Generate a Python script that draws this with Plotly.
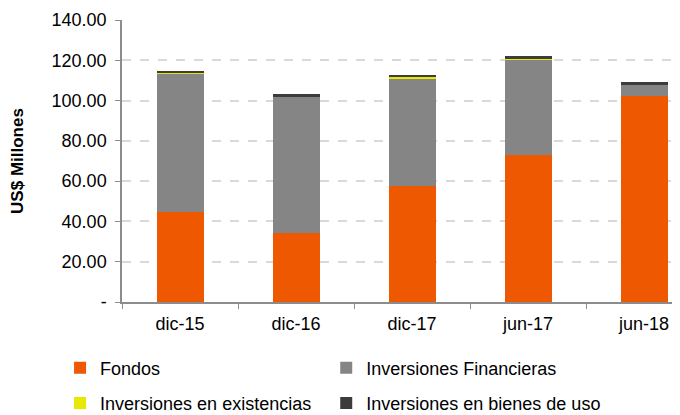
import plotly.graph_objects as go

# Data (US$ millones)
periodos = ["dic-15", "dic-16", "dic-17", "jun-17", "jun-18"]
fondos = [44.9, 34.3, 57.8, 73.0, 102.3]
inv_financieras = [68.3, 67.7, 53.1, 47.2, 5.5]
inv_existencias = [0.4, 0.0, 0.6, 0.6, 0.1]
inv_bienes_uso = [1.2, 1.2, 1.3, 1.3, 1.3]

y_ticks = [0, 20, 40, 60, 80, 100, 120, 140]
y_tick_text = ["-", "20.00", "40.00", "60.00", "80.00", "100.00", "120.00", "140.00"]

FONT = "Liberation Sans, Arial, sans-serif"

fig = go.Figure()
series = [
    ("Fondos", fondos, "#EE5800", "legend"),
    ("Inversiones Financieras", inv_financieras, "#858585", "legend2"),
    ("Inversiones en existencias", inv_existencias, "#E8E800", "legend"),
    ("Inversiones en bienes de uso", inv_bienes_uso, "#3C3C3C", "legend2"),
]
for name, vals, color, leg in series:
    fig.add_trace(go.Bar(
        x=periodos, y=vals, name=name, legend=leg, legendgroup=name,
        marker=dict(color=color, line=dict(width=0)),
    ))

# page body has an 8px margin, so the figure is 8px smaller than the window
legend_style = dict(
    orientation="v", traceorder="grouped", tracegroupgap=9,
    font=dict(family=FONT, size=18, color="#000000"),
    bgcolor="rgba(0,0,0,0)", itemwidth=30,
    xref="paper", yref="container", xanchor="left", yanchor="top", y=0.161,
)

fig.update_layout(
    width=672, height=407,
    barmode="stack", bargap=0.595,
    margin=dict(l=114, r=0, t=12, b=113),
    paper_bgcolor="white", plot_bgcolor="white",
    font=dict(family=FONT, size=18, color="#000000"),
    legend=dict(legend_style, x=-0.111),
    legend2=dict(legend_style, x=0.366),
    showlegend=True,
)

fig.update_yaxes(
    range=[0, 140], tickvals=y_ticks, ticktext=y_tick_text,
    showgrid=True, gridcolor="#D9D9D9", griddash="dash", gridwidth=1.5,
    showline=True, linecolor="#8C8C8C", linewidth=1.5,
    ticks="outside", ticklen=5, tickcolor="#8C8C8C",
    tickfont=dict(family=FONT, size=18), ticklabelstandoff=5,
    zeroline=False, automargin=False,
    title=dict(text="<b>US$ Millones</b>", font=dict(family=FONT, size=17), standoff=30),
)
fig.update_xaxes(
    range=[-0.5, 4.31], automargin=False,
    showline=True, linecolor="#8C8C8C", linewidth=2,
    ticks="outside", tickson="boundaries", ticklen=5, tickcolor="#8C8C8C",
    tickfont=dict(family=FONT, size=18), ticklabelstandoff=4,
)

fig.write_html("out.html")
